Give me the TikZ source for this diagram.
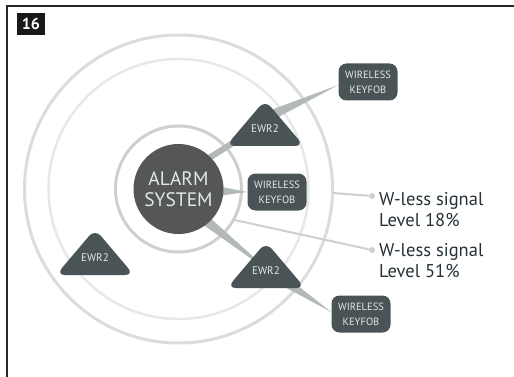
\documentclass[tikz,border=0pt]{standalone}
\usepackage{fontspec}
\setmainfont{PT Sans}
\usetikzlibrary{calc,backgrounds,positioning}

\definecolor{nodegray}{HTML}{4A5457}
\definecolor{hubgray}{HTML}{545658}
\definecolor{bandgray}{HTML}{B3B8B8}
\definecolor{ringgray}{HTML}{DCDCDC}
\definecolor{ringlight}{HTML}{E8E8E8}
\definecolor{ringdark}{HTML}{CFCFCF}
\definecolor{labeltext}{HTML}{263238}
\definecolor{nodetext}{HTML}{E4E8E8}

\tikzset{band/.style={fill=bandgray}}
% tapered link: base, tip, half width
\newcommand\taper[3]{\fill[band] ($(#1)!#3!90:(#2)$) -- ($(#1)!#3!-90:(#2)$) -- (#2) -- cycle;}

\begin{document}
\begin{tikzpicture}[x=1pt,y=-1pt,
    hub/.style={circle, fill=hubgray, minimum size=90pt, inner sep=0pt,
        text=nodetext, align=center, font=\fontsize{19.5}{21}\selectfont},
    fob/.style={rectangle, rounded corners=8pt, fill=nodegray,
        minimum width=59pt, minimum height=37pt, inner sep=0pt,
        text=nodetext, align=center, font=\fontsize{10.5}{15}\selectfont},
    relay/.style={minimum width=78pt, minimum height=46pt, inner sep=0pt,
        text=nodetext, font=\fontsize{11}{12}\selectfont,
        text height=18pt, text depth=0pt,
        path picture={\fill[nodegray, rounded corners=9pt]
            (path picture bounding box.south west) -- (path picture bounding box.north)
            -- (path picture bounding box.south east) -- cycle;}},
    ring/.style={line width=3pt},
    signal/.style={draw=ringdark, line width=2pt},
    sigdot/.style={circle, fill=ringdark, minimum size=6pt, inner sep=0pt},
    sigtext/.style={anchor=west, align=left, text=labeltext,
        font=\fontsize{18.5}{21}\selectfont, inner sep=0pt},
    ]
    \useasboundingbox (0,0) rectangle (514,377);

    % Frame and figure number
    \draw[line width=1.2pt, black!85] (7,377) -- (7,6) -- (514,6);
    \node[fill=black!90, text=white, font=\bfseries\fontsize{16}{16}\selectfont,
        minimum width=28pt, minimum height=22pt, inner sep=0pt] (fignum) at (31,24) {16};

    % Central unit
    \node[hub] (alarm) at (178.5,189) {ALARM\\SYSTEM};

    % Repeaters
    \node[relay] (relA) at (265,123) {EWR2};
    \node[relay] (relB) at (266,265) {EWR2};
    \node[relay] (relC) at (95,252) {EWR2};

    % Keyfobs
    \node[fob] (fobA) at (368,82) {WIRELESS\\KEYFOB};
    \node[fob] (fobB) at (277,192) {WIRELESS\\KEYFOB};
    \node[fob] (fobC) at (361,314) {WIRELESS\\KEYFOB};

    % Signal level labels
    \node[sigdot] (dotA) at (372,196) {};
    \node[sigdot] (dotB) at (372,250) {};
    \node[sigtext] (sigA) at ($(dotA)+(7,13.5)$) {W-less signal\\Level 18\%};
    \node[sigtext] (sigB) at ($(dotB)+(7,11)$) {W-less signal\\Level 51\%};

    \begin{pgfonlayer}{background}
        % Range rings
        \draw[ring, draw=ringgray] (alarm.center) circle[radius=154];
        \draw[ring, draw=ringlight, line width=2.5pt] (alarm.center) circle[radius=130];
        \draw[ring, draw=ringdark] (alarm.center) circle[radius=63];

        % Pointers to the labels
        \coordinate (outerA) at ($(alarm.center)+(154.5,4)$);
        \coordinate (innerB) at ($(alarm.center)+(56,31)$);
        \draw[signal] (outerA) -- (dotA);
        \draw[signal] (innerB) -- (dotB);

        % Links
        \draw[bandgray, line width=6pt] ($(alarm.45)!-6pt!(relA.center)$) -- (relA.center);
        \coordinate (baseA) at ($(relA.center)+(0,-5)$);
        \coordinate (tipA) at ($(fobA.west)+(0,3)$);
        \taper{baseA}{tipA}{5.5pt}
        \coordinate (baseB) at ($(alarm.center)+(0,1)$);
        \taper{baseB}{fobB.west}{11.5pt}
        \coordinate (baseC) at ($(alarm.center)+(11.5,19)$);
        \coordinate (tipC) at ($(relB.center)+(6,8.5)$);
        \taper{baseC}{tipC}{6pt}
        \coordinate (baseD) at ($(relB.center)+(14,13.5)$);
        \coordinate (tipD) at ($(fobC.west)+(0,-2)$);
        \taper{baseD}{tipD}{5.3pt}
    \end{pgfonlayer}
\end{tikzpicture}
\end{document}
